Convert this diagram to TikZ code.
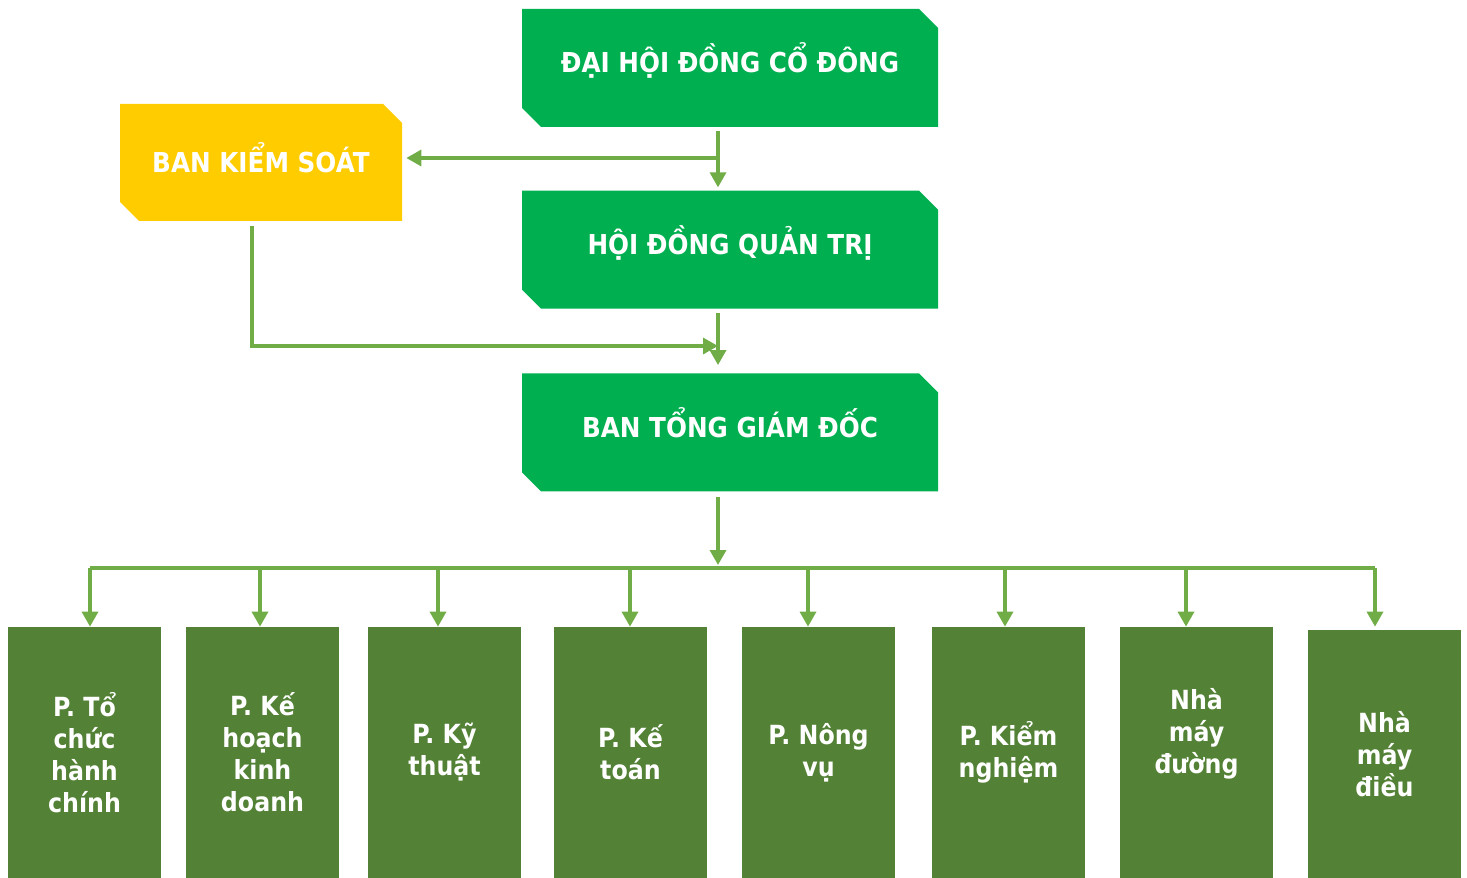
\documentclass[tikz,border=0pt]{standalone}
\usepackage{fontspec}
\setmainfont{DejaVu Sans}[FakeStretch=0.9]
\usetikzlibrary{shapes.misc, arrows.meta, positioning, calc}
\definecolor{topgreen}{HTML}{00B050}
\definecolor{ctrlyellow}{HTML}{FFCC00}
\definecolor{deptgreen}{HTML}{538135}
\definecolor{linegreen}{HTML}{70AD47}

\begin{document}
\begin{tikzpicture}[
    node distance=1.26cm,
    topbox/.style={chamfered rectangle, chamfered rectangle corners={north east, south west}, chamfered rectangle xsep=0.19cm, chamfered rectangle ysep=0.19cm, fill=topgreen, text=white, font=\bfseries\fontsize{15.6}{18}\selectfont, minimum width=8.32cm, minimum height=2.36cm, inner sep=0pt, text height=0.5cm, text depth=0.3cm},
    ctrlbox/.style={topbox, fill=ctrlyellow, minimum width=5.64cm, minimum height=2.34cm, text height=0.6cm, text depth=0.2cm},
    deptbox/.style={rectangle, fill=deptgreen, text=white, font=\bfseries\fontsize{15}{18.2}\selectfont, minimum width=3.06cm, minimum height=5.02cm, align=center, inner sep=0pt},
    link/.style={draw=linegreen, line width=1.9pt},
    conn/.style={link, -{Triangle[width=0.32cm,length=0.3cm]}}
]
\useasboundingbox (0,0) rectangle (29.34,-17.56);

% Top of the chart
\node[topbox] (dh) at (14.6,-1.36) {ĐẠI HỘI ĐỒNG CỔ ĐÔNG};
\node[topbox, below=of dh] (hdqt) {HỘI ĐỒNG QUẢN TRỊ};
\node[topbox, below=1.28cm of hdqt] (btgd) {BAN TỔNG GIÁM ĐỐC};

% Supervisory board
\node[ctrlbox] (bks) at (5.22,-3.25) {BAN KIỂM SOÁT};

% Departments
\node[deptbox] (d1) at (1.69,-15.05) {P. Tổ\\chức\\hành\\chính};
\node[deptbox] (d2) at (5.25,-15.05) {P. Kế\\hoạch\\kinh\\doanh};
\node[deptbox] (d3) at (8.89,-15.05) {P. Kỹ\\thuật};
\node[deptbox] (d4) at (12.61,-15.05) {P. Kế\\toán};
\node[deptbox] (d5) at (16.37,-15.05) {P. Nông\\vụ};
\node[deptbox] (d6) at (20.17,-15.05) {P. Kiểm\\nghiệm};
\node[deptbox, text depth=0.86cm] (d7) at (23.93,-15.05) {Nhà\\máy\\đường};
\node[deptbox, minimum height=4.96cm] (d8) at (27.69,-15.08) {Nhà\\máy\\điều};

% Connector points
\coordinate (spine) at (14.36,0);
\coordinate (k1) at (14.32,-3.16);
\coordinate (k2) at (5.04,-6.92);
\coordinate (bus) at (0,-11.36);

% Arrows
\draw[conn, shorten <=0.08cm, shorten >=0.06cm] (dh.south -| spine) -- (hdqt.north -| spine);
\draw[conn, shorten >=0.08cm] (k1) -- (k1 -| bks.east);
\draw[conn, shorten <=0.1cm] (bks.south -| k2) -- (k2) -- (k2 -| spine);
\draw[conn, shorten <=0.08cm, shorten >=0.16cm] (hdqt.south -| spine) -- (btgd.north -| spine);
\draw[conn, shorten <=0.1cm, shorten >=0.06cm] (btgd.south -| spine) -- (bus -| spine);
\draw[link] ([xshift=0.11cm]bus -| d1.north) -- ([xshift=-0.19cm]bus -| d8.north);
\foreach \d/\dx in {d1/0.11, d2/-0.05, d3/-0.13, d4/-0.01, d5/-0.21, d6/-0.07, d7/-0.21, d8/-0.19}
    \draw[conn] ([xshift=\dx cm]bus -| \d.north) -- ([xshift=\dx cm]\d.north |- d1.north);

\end{tikzpicture}
\end{document}
